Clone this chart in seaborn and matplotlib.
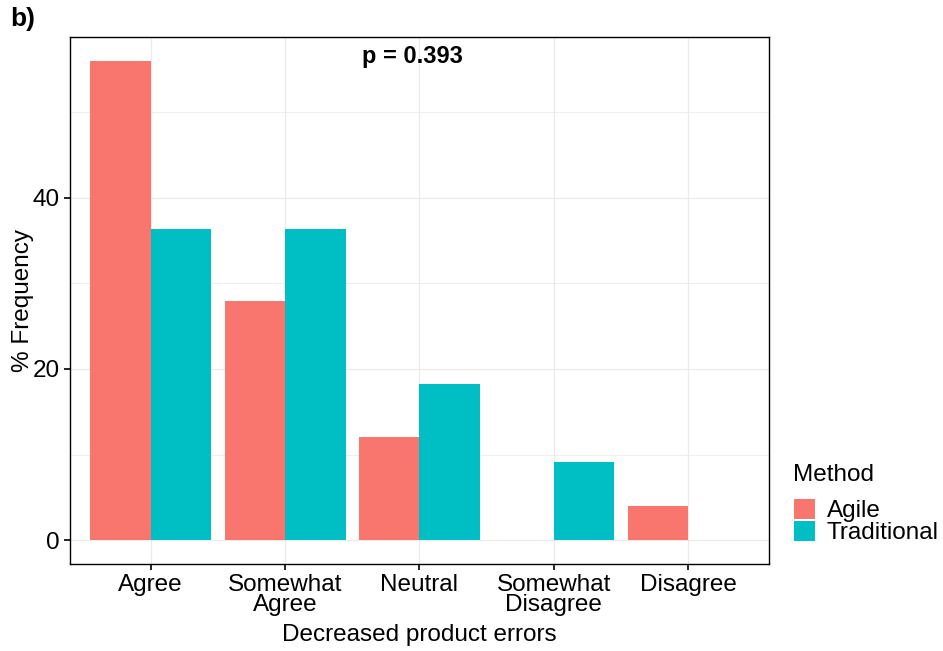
import matplotlib
matplotlib.use("Agg")
import matplotlib.pyplot as plt
from matplotlib.ticker import MultipleLocator
import pandas as pd
import seaborn as sns

# Response categories (x axis) and % frequency per method
categories = ["Agree", "Somewhat\nAgree", "Neutral", "Somewhat\nDisagree", "Disagree"]
agile = [56.0, 28.0, 12.0, 0.0, 4.0]
traditional = [36.4, 36.4, 18.2, 9.1, 0.0]
methods = ["Agile", "Traditional"]
palette = {"Agile": "#F8766D", "Traditional": "#00BFC4"}

df = pd.DataFrame({
    "category": categories * 2,
    "freq": agile + traditional,
    "Method": ["Agile"] * len(categories) + ["Traditional"] * len(categories),
})

sns.set_theme(style="white")
plt.rcParams["font.family"] = ["Liberation Sans", "DejaVu Sans"]
plt.rcParams["text.color"] = "black"

fig = plt.figure(figsize=(9.43, 6.51), dpi=100)
ax = fig.add_axes([0.0742, 0.1336, 0.7413, 0.8096])

sns.barplot(
    data=df, x="category", y="freq", hue="Method", hue_order=methods,
    order=categories, palette=palette, width=0.9, saturation=1,
    edgecolor="none", ax=ax,
)

ax.set_xlim(-0.6, 4.6)
ax.set_ylim(-2.8, 58.8)
ax.yaxis.set_major_locator(MultipleLocator(20))
ax.yaxis.set_minor_locator(MultipleLocator(10))
ax.grid(True, which="major", color="#EBEBEB", linewidth=0.9)
ax.grid(True, which="minor", axis="y", color="#EBEBEB", linewidth=0.6)
ax.set_axisbelow(True)

for spine in ax.spines.values():
    spine.set_color("black")
    spine.set_linewidth(1.0)

ax.tick_params(axis="both", which="major", direction="out", length=4, width=1.2,
               color="black", labelsize=17.5, labelcolor="black", bottom=True, left=True)
ax.tick_params(axis="y", which="minor", length=0)

ax.set_xlabel("Decreased product errors", fontsize=17.5, color="black", labelpad=6)
ax.set_ylabel("% Frequency", fontsize=17.5, color="black", labelpad=-1)
for lbl in ax.get_xticklabels():
    lbl.set_linespacing(0.85)

ax.text(0.49, 0.985, "p = 0.393", transform=ax.transAxes, ha="center", va="top",
        fontsize=17, fontweight="bold", color="black")
fig.text(0.011, 0.99, "b)", ha="left", va="top", fontsize=19, fontweight="bold", color="black")

# legend outside on the right; title drawn separately to get the wider gap above the keys
handles, labels = ax.get_legend_handles_labels()
ax.legend_.remove()
fig.text(793 / 943, 1 - 464 / 651, "Method", ha="left", va="top", fontsize=17.5, color="black")
leg = fig.legend(handles, labels, loc="upper left", bbox_to_anchor=(794 / 943, 1 - 499 / 651),
                 frameon=False, fontsize=17.5, handlelength=0.85, handleheight=0.9,
                 handletextpad=0.5, labelspacing=-0.08, borderaxespad=0, borderpad=0)
for t in leg.get_texts():
    t.set_color("black")

fig.savefig("out.png", dpi=100)
